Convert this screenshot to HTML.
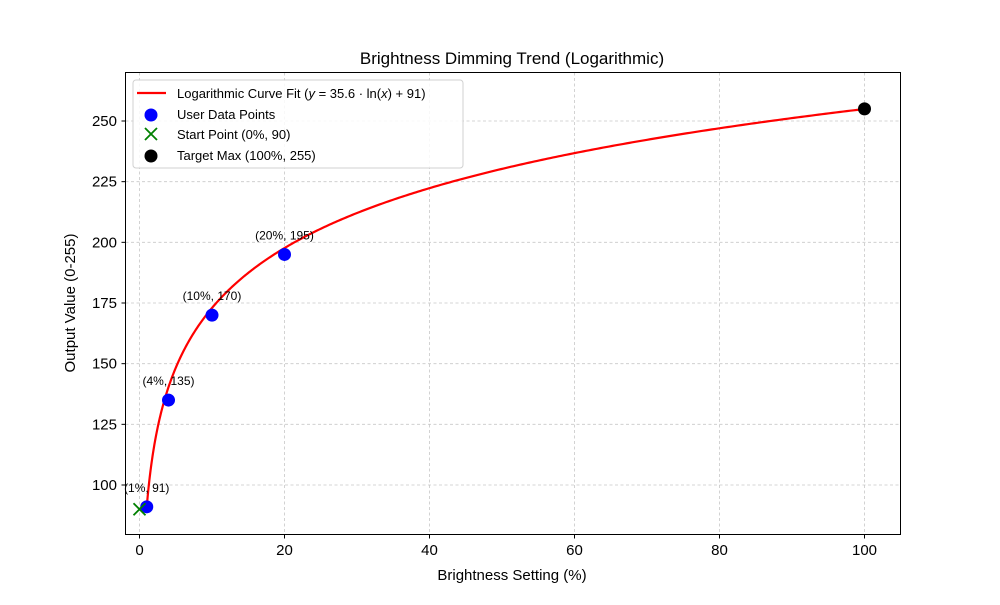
<!DOCTYPE html>
<html><head><meta charset="utf-8"><style>
body{margin:0;background:#fff;}
svg text{font-family:"Liberation Sans","DejaVu Sans",sans-serif;fill:#000;}
</style></head><body>
<svg id="s" width="1000" height="600" xmlns="http://www.w3.org/2000/svg">
<rect width="1000" height="600" fill="#fff"/>
<g id="grid" stroke="#c8c8c8" stroke-width="0.8" stroke-dasharray="3,2.5"></g>
<g id="ticks"></g>
<path id="curve" fill="none" stroke="#ff0000" stroke-width="2.2"/>
<g id="pts"></g>
<rect x="125.5" y="72.5" width="775" height="462" fill="none" stroke="#000" stroke-width="1"/>
<text x="512" y="64" font-size="17" text-anchor="middle">Brightness Dimming Trend (Logarithmic)</text>
<text x="512" y="580" font-size="15" text-anchor="middle">Brightness Setting (%)</text>
<text transform="translate(75,303) rotate(-90)" font-size="15" text-anchor="middle">Output Value (0-255)</text>
<g>
<rect x="133" y="80" width="330" height="88" rx="3" fill="#fff" fill-opacity="0.85" stroke="#d0d0d0"/>
<line x1="137" y1="93" x2="166" y2="93" stroke="#ff0000" stroke-width="2.2"/>
<text x="177" y="98" font-size="13">Logarithmic Curve Fit (<tspan font-style="italic">y</tspan> = 35.6 · ln(<tspan font-style="italic">x</tspan>) + 91)</text>
<circle cx="151" cy="115" r="6.5" fill="#0000ff"/>
<text x="177" y="119" font-size="13">User Data Points</text>
<path d="M145,128 L157,140 M157,128 L145,140" stroke="#008000" stroke-width="1.8"/>
<text x="177" y="139" font-size="13">Start Point (0%, 90)</text>
<circle cx="151" cy="156" r="6.5" fill="#000"/>
<text x="177" y="160" font-size="13">Target Max (100%, 255)</text>
</g>
</svg>
<script>
const X=v=>139.5+7.25*v, Y=v=>485-(v-100)*2.4267;
const ns="http://www.w3.org/2000/svg";
function el(p,t,a,txt){const e=document.createElementNS(ns,t);for(const k in a)e.setAttribute(k,a[k]);if(txt)e.textContent=txt;document.getElementById(p).appendChild(e);return e;}
[0,20,40,60,80,100].forEach(v=>{el("grid","line",{x1:X(v),x2:X(v),y1:72.5,y2:534.5});
 el("ticks","line",{x1:X(v),x2:X(v),y1:534.5,y2:538.5,stroke:"#000"});
 el("ticks","text",{x:X(v),y:555,"font-size":15,"text-anchor":"middle"},String(v));});
[100,125,150,175,200,225,250].forEach(v=>{el("grid","line",{x1:125.5,x2:900.5,y1:Y(v),y2:Y(v)});
 el("ticks","line",{x1:121.5,x2:125.5,y1:Y(v),y2:Y(v),stroke:"#000"});
 el("ticks","text",{x:117,y:Y(v)+5,"font-size":15,"text-anchor":"end"},String(v));});
let d="";for(let i=0;i<=400;i++){const x=1+99*Math.pow(i/400,2);d+=(i?"L":"M")+X(x).toFixed(2)+","+Y(35.6*Math.log(x)+91).toFixed(2);}
document.getElementById("curve").setAttribute("d",d);
[[1,91],[4,135],[10,170],[20,195]].forEach(([x,y])=>{el("pts","circle",{cx:X(x),cy:Y(y),r:6.5,fill:"#0000ff"});
 el("pts","text",{x:X(x),y:Y(y)-15,"font-size":12,"text-anchor":"middle"},`(${x}%, ${y})`);});
el("pts","circle",{cx:X(100),cy:Y(255),r:6.5,fill:"#000"});
const gx=X(0),gy=Y(90);el("pts","path",{d:`M${gx-6},${gy-6}L${gx+6},${gy+6}M${gx+6},${gy-6}L${gx-6},${gy+6}`,stroke:"#008000","stroke-width":1.8});
</script>
</body></html>
